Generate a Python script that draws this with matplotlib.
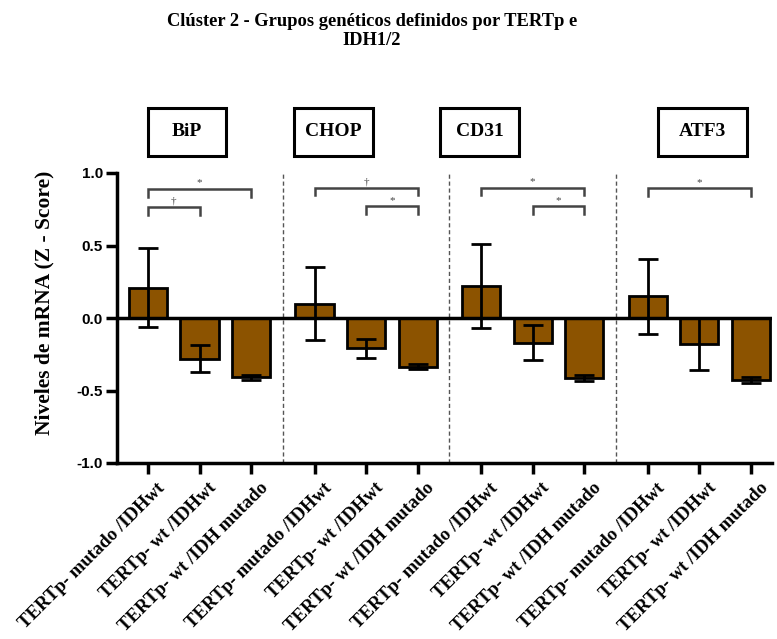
import numpy as np
import matplotlib.pyplot as plt
from matplotlib.patches import Rectangle

# Z-score means and SEM per gene, three genetic groups each
genes = ['BiP', 'CHOP', 'CD31', 'ATF3']
groups = ['TERTp- mutado /IDHwt', 'TERTp- wt /IDHwt', 'TERTp- wt /IDH mutado']
bip = [0.21, -0.28, -0.41]
bip_err = [0.27, 0.095, 0.02]
chop = [0.10, -0.21, -0.335]
chop_err = [0.25, 0.065, 0.02]
cd31 = [0.22, -0.17, -0.415]
cd31_err = [0.29, 0.12, 0.02]
atf3 = [0.15, -0.18, -0.425]
atf3_err = [0.26, 0.18, 0.02]

# significance brackets: (gene index, from group, to group, level, symbol)
brackets = [
    (0, 0, 2, 0.89, '*'), (0, 0, 1, 0.765, '\u2020'),
    (1, 0, 2, 0.90, '\u2020'), (1, 1, 2, 0.77, '*'),
    (2, 0, 2, 0.90, '*'), (2, 1, 2, 0.77, '*'),
    (3, 0, 2, 0.895, '*'),
]

means = [bip, chop, cd31, atf3]
errs = [bip_err, chop_err, cd31_err, atf3_err]

bar_color = '#8C5300'
group_step = 3.23
serif = 'Liberation Serif'

fig = plt.figure(figsize=(7.77, 6.39), dpi=100)
ax = fig.add_axes([117 / 777, 1 - 463 / 639, (772 - 117) / 777, (463 - 173) / 639])

xpos = []
for g in range(len(genes)):
    x = np.arange(3) + g * group_step
    xpos.extend(x)
    ax.bar(x, means[g], width=0.74, color=bar_color, edgecolor='black', linewidth=2, zorder=2)
    ax.errorbar(x, means[g], yerr=errs[g], fmt='none', ecolor='black', elinewidth=2,
                capsize=7, capthick=2, zorder=3)
    if g > 0:
        sep = (g * group_step) - (group_step - 2) / 2
        ax.plot([sep, sep], [-1, 1], ls=(0, (3, 2)), color='#555555', lw=1, zorder=1)

# zero line
ax.axhline(0, color='black', lw=2.5, zorder=4)

# significance brackets
for g, a, b, lvl, sym in brackets:
    x0 = g * group_step + a
    x1 = g * group_step + b
    ax.plot([x0, x0, x1, x1], [lvl - 0.055, lvl, lvl, lvl - 0.055], color='#444444', lw=1.8,
            solid_joinstyle='miter', clip_on=False)
    ax.text((x0 + x1) / 2, lvl + 0.01, sym, ha='center', va='bottom', fontsize=8,
            color='#444444', family=serif)

ax.set_xlim(-0.6, 12.1)
ax.set_ylim(-1.0, 1.0)
ax.set_yticks([-1.0, -0.5, 0.0, 0.5, 1.0])
ax.set_yticklabels(['-1.0', '-0.5', '0.0', '0.5', '1.0'], fontweight='bold', fontsize=11,
                   family='Liberation Sans')
ax.set_xticks(xpos)
ax.set_xticklabels([])
# slanted group labels, anchored a little right of each tick
for x, lbl in zip(xpos, groups * len(genes)):
    ax.annotate(lbl, xy=(x, 0), xycoords=('data', 'axes fraction'), xytext=(6, -12),
                textcoords='offset points', rotation=45, ha='right', va='top',
                rotation_mode='anchor', fontweight='bold', fontsize=13.5, family=serif)
ax.tick_params(axis='both', direction='out', length=8, width=2.5)
ax.tick_params(axis='y', pad=2)
for side in ['top', 'right']:
    ax.spines[side].set_visible(False)
for side in ['left', 'bottom']:
    ax.spines[side].set_linewidth(2.5)

ax.set_ylabel('Niveles de mRNA (Z - Score)', fontsize=15.5, fontweight='bold', family=serif)
ax.yaxis.set_label_coords((54 - 117) / 655, (463 - 303) / 290)

# gene name boxes above each group
boxes = [(148, 226), (294, 373), (440, 519), (658, 747)]
for name, (bx0, bx1) in zip(genes, boxes):
    rect = Rectangle((bx0 / 777, 1 - 156 / 639), (bx1 - bx0) / 777, 48 / 639,
                     transform=fig.transFigure, fill=False, edgecolor='black', lw=2.2)
    fig.add_artist(rect)
    fig.text((bx0 + bx1) / 2 / 777, 1 - 132 / 639, name, ha='center', va='center',
             fontsize=14, fontweight='bold', family=serif)

fig.text(372 / 777, 1 - 31 / 639, 'Clúster 2 - Grupos genéticos definidos por TERTp e\nIDH1/2',
         ha='center', va='center', fontsize=13.3, fontweight='bold', family=serif,
         linespacing=1.1)

fig.savefig('out.png', dpi=100)
